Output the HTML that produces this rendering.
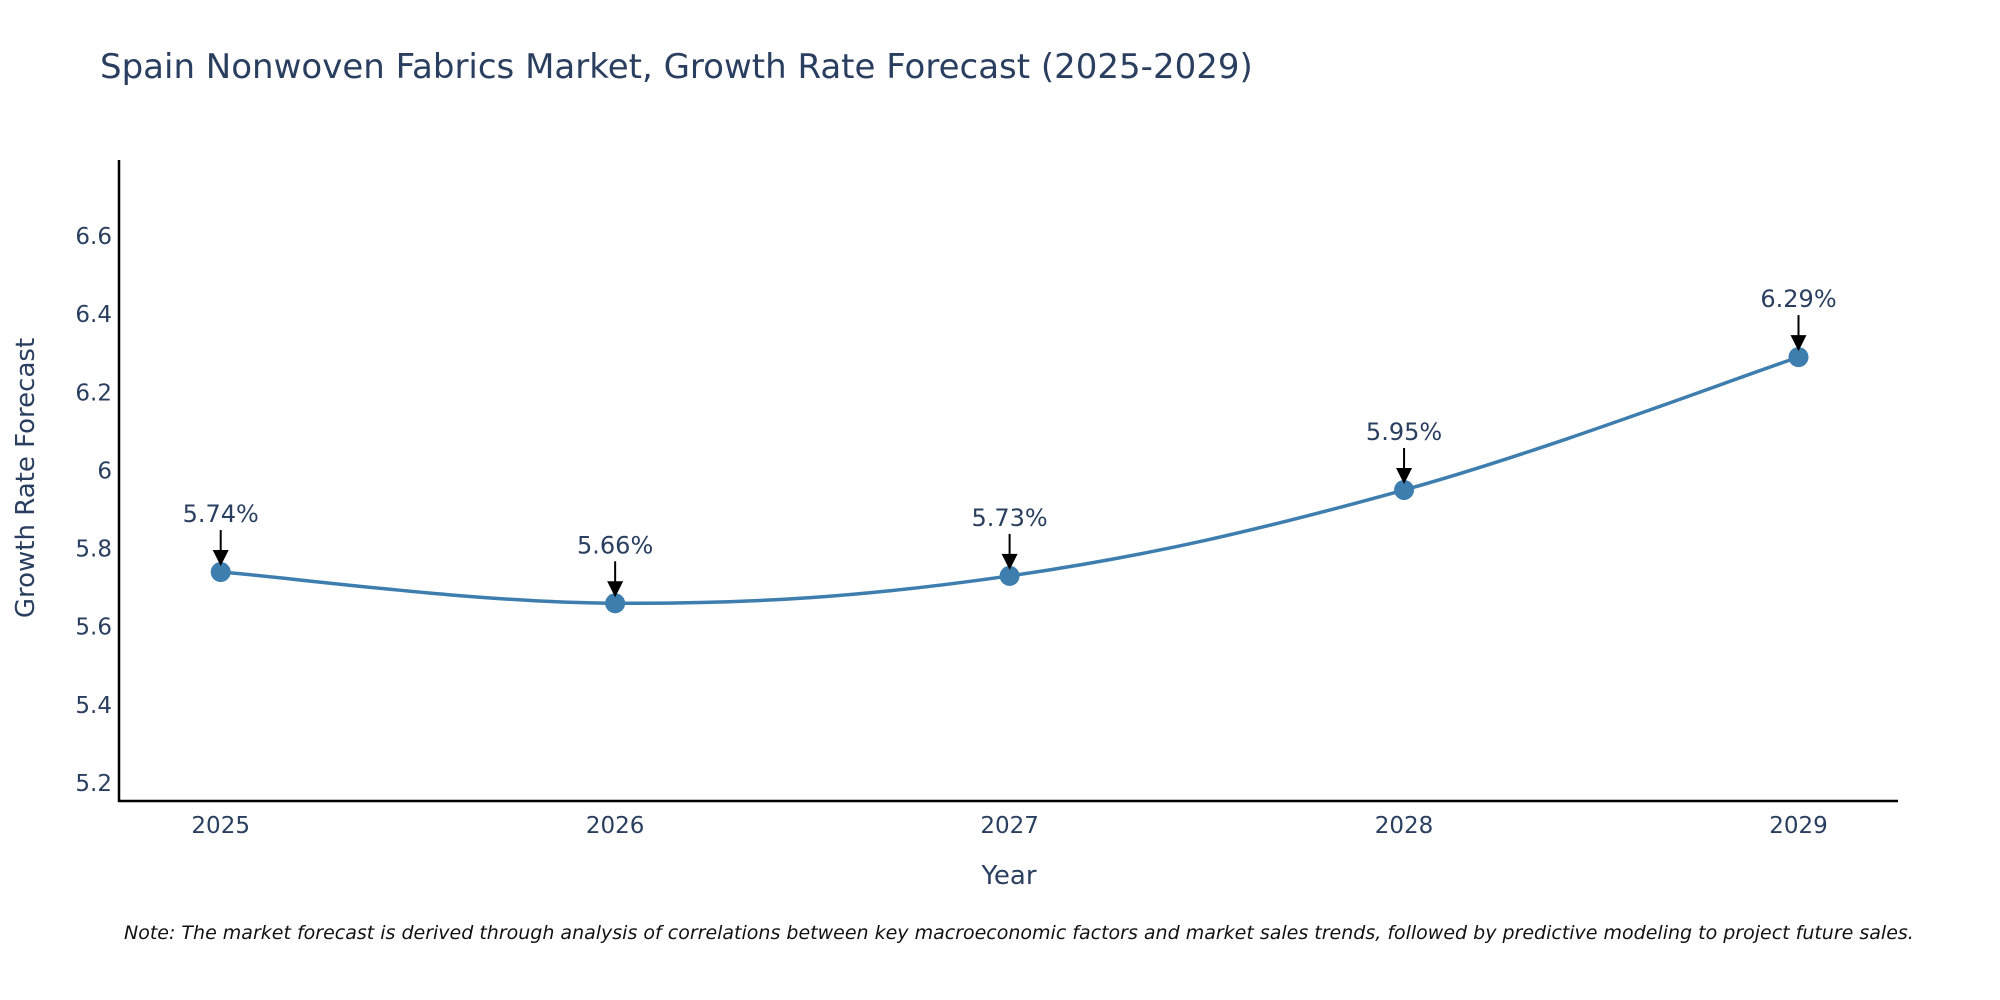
<!DOCTYPE html>
<html><head><meta charset="utf-8"><style>
body{margin:0;background:#fff;}
svg{display:block;font-family:"DejaVu Sans","Liberation Sans",sans-serif;}
</style></head><body>
<svg id="chart" width="2000" height="1000" viewBox="0 0 2000 1000">
<text x="100" y="78" font-size="34" fill="#2a3f5f">Spain Nonwoven Fabrics Market, Growth Rate Forecast (2025-2029)</text>
<g id="yticks"></g><g id="xticks"></g>
<path id="line" fill="none" stroke="#3d7eae" stroke-width="3.5"/>
<g id="marks"></g>
<line x1="119" y1="160" x2="119" y2="802" stroke="#000" stroke-width="2.5"/>
<line x1="118" y1="801" x2="1898" y2="801" stroke="#000" stroke-width="2.5"/>
<text x="1009" y="884" font-size="26" fill="#2a3f5f" text-anchor="middle">Year</text>
<text transform="translate(34,478) rotate(-90)" font-size="26" fill="#2a3f5f" text-anchor="middle">Growth Rate Forecast</text>
<text x="124" y="939" font-size="19" font-style="italic" fill="#111">Note: The market forecast is derived through analysis of correlations between key macroeconomic factors and market sales trends, followed by predictive modeling to project future sales.</text>
</svg>
<script>
const years=["2025","2026","2027","2028","2029"];
const values=[5.74,5.66,5.73,5.95,6.29];
const yTicks=[5.2,5.4,5.6,5.8,6,6.2,6.4,6.6];
const NS="http://www.w3.org/2000/svg";
const xS=i=>220.7+i*(1798.5-220.7)/4;
const yS=v=>783-(v-5.2)*(547/1.4);
function mk(t,a,p){const e=document.createElementNS(NS,t);for(const k in a)e.setAttribute(k,a[k]);p.appendChild(e);return e;}
const yt=document.getElementById('yticks');
yTicks.forEach(v=>{const t=mk('text',{x:112,y:yS(v)+8,'font-size':23,fill:'#2a3f5f','text-anchor':'end'},yt);


t.textContent=String(v);});
const xt=document.getElementById('xticks');
years.forEach((y,i)=>{const t=mk('text',{x:xS(i),y:833,'font-size':23,fill:'#2a3f5f','text-anchor':'middle'},xt);


t.textContent=y;});
const pts=values.map((v,i)=>[xS(i),yS(v)]);
let d='M'+pts[0][0]+','+pts[0][1];
const s=0.18;
for(let i=0;i<pts.length-1;i++){const p0=pts[Math.max(0,i-1)],p1=pts[i],p2=pts[i+1],p3=pts[Math.min(pts.length-1,i+2)];
d+=' C'+(p1[0]+(p2[0]-p0[0])*s)+','+(p1[1]+(p2[1]-p0[1])*s)+' '+(p2[0]-(p3[0]-p1[0])*s)+','+(p2[1]-(p3[1]-p1[1])*s)+' '+p2[0]+','+p2[1];}
document.getElementById('line').setAttribute('d',d);
const mg=document.getElementById('marks');
values.forEach((v,i)=>{const x=xS(i),y=yS(v);
const c=mk('circle',{cx:x,cy:y,r:10,fill:'#3d7eae'},mg);


const l=mk('line',{x1:x,y1:y-42,x2:x,y2:y-18,stroke:'#000','stroke-width':2},mg);


const h=mk('polygon',{points:(x-8)+','+(y-22)+' '+(x+8)+','+(y-22)+' '+x+','+(y-6),fill:'#000'},mg);


const t=mk('text',{x:x,y:y-50,'font-size':24,fill:'#2a3f5f','text-anchor':'middle'},mg);


t.textContent=v.toFixed(2)+'%';});
</script>
</body></html>
